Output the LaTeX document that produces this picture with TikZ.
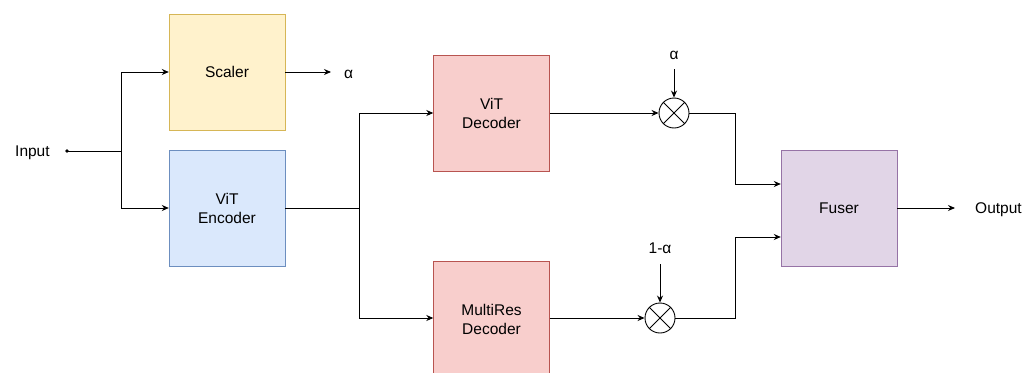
\documentclass[tikz,border=0pt]{standalone}
\usepackage{fontspec}
\setmainfont{Liberation Sans}
\usetikzlibrary{arrows.meta}
\definecolor{yfill}{HTML}{FFF2CC}\definecolor{ydraw}{HTML}{D6B656}
\definecolor{bfill}{HTML}{DAE8FC}\definecolor{bdraw}{HTML}{6C8EBF}
\definecolor{rfill}{HTML}{F8CECC}\definecolor{rdraw}{HTML}{B85450}
\definecolor{pfill}{HTML}{E1D5E7}\definecolor{pdraw}{HTML}{9673A6}
\begin{document}
\begin{tikzpicture}[x=1pt,y=-1pt,
  blk/.style={rectangle,minimum width=116pt,minimum height=116pt,inner sep=0pt,align=center,font=\fontsize{15.5}{19}\selectfont},
  lbl/.style={font=\fontsize{15.5}{19}\selectfont,inner sep=0pt},
  ring/.style={circle,draw,line width=0.9pt,minimum size=30pt,inner sep=0pt},
  conn/.style={line width=0.9pt},
  arr/.style={conn,-{Stealth[length=7pt,width=6pt]}}]
\useasboundingbox (0,0) rectangle (1035,372);
\node[blk,fill=yfill,draw=ydraw] (scaler) at (227,72) {Scaler};
\node[blk,fill=bfill,draw=bdraw] (enc) at (227,208) {ViT\\Encoder};
\node[blk,fill=rfill,draw=rdraw] (vdec) at (491.5,113) {ViT\\Decoder};
\node[blk,fill=rfill,draw=rdraw] (mdec) at (491.5,319) {MultiRes\\Decoder};
\node[blk,fill=pfill,draw=pdraw] (fuser) at (839,208) {Fuser};
\node[lbl,anchor=west] (input) at (15,153) {Input};
\coordinate (dot) at (67,151);
\fill (dot) circle (1.8pt);
\coordinate (split) at (121,151);
\draw[conn] (dot) -- (split);
\draw[arr] (split) |- (scaler.west);
\draw[arr] (split) |- (enc.west);
\node[lbl,anchor=west] (alpha0) at (344,74) {α};
\coordinate (sa) at (331,72);
\draw[arr] (scaler.east) -- (sa);
\coordinate (es) at (359,208);
\draw[conn] (enc.east) -- (es);
\draw[arr] (es) |- (vdec.west);
\draw[arr] (es) |- (mdec.west |- 0,318);
\node[ring] (m1) at (674,113) {};
\node[ring] (m2) at (660,318) {};
\draw[conn] (m1.45) -- (m1.225) (m1.135) -- (m1.315);
\draw[conn] (m2.45) -- (m2.225) (m2.135) -- (m2.315);
\draw[arr] (vdec.east) -- (m1.west);
\draw[arr] (mdec.east |- m2) -- (m2.west);
\node[lbl] (a1) at (674,55) {α};
\node[lbl] (a2) at (660,248) {1-α};
\coordinate (a1s) at (674,69);
\coordinate (a2s) at (660,264);
\draw[arr] (a1s) -- (m1.north);
\draw[arr] (a2s) -- (m2.north);
\coordinate (j1) at (735,113);
\coordinate (j2) at (735,318);
\draw[arr] (m1.east) -- (j1) |- (fuser.west |- 0,184);
\draw[arr] (m2.east) -- (j2) |- (fuser.west |- 0,237);
\node[lbl,anchor=west] (output) at (975,210) {Output};
\coordinate (oa) at (955,208);
\draw[arr] (fuser.east) -- (oa);
\end{tikzpicture}
\end{document}
